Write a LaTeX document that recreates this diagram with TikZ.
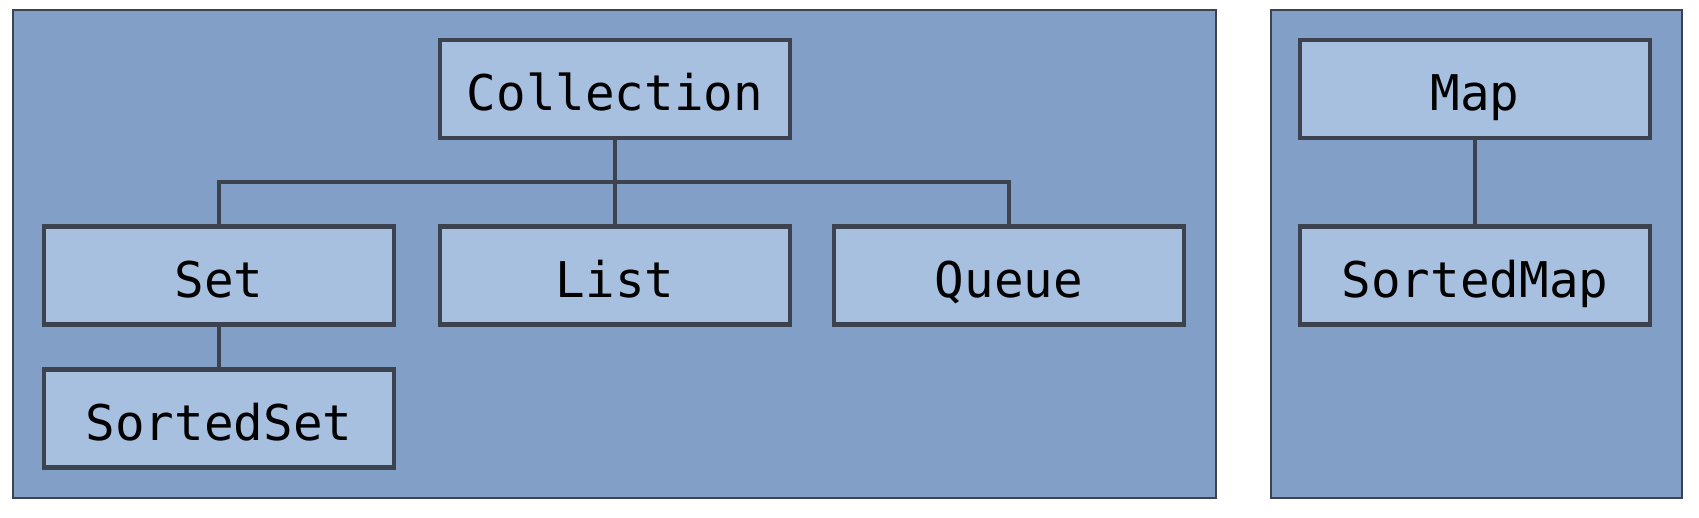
\documentclass[tikz,border=0pt]{standalone}
\usepackage{fontspec}
\setmonofont{DejaVu Sans Mono}
\usetikzlibrary{positioning}

\definecolor{panelblue}{RGB}{130,159,199}
\definecolor{boxblue}{RGB}{167,192,223}
\definecolor{edgegray}{RGB}{60,66,78}

\tikzset{
    panel/.style={draw=edgegray,fill=panelblue,line width=1.5pt},
    iface/.style={draw=edgegray,fill=boxblue,line width=2.4pt,rectangle,
        minimum width=7.0cm,minimum height=1.96cm,inner sep=0pt,
        text height=0.9cm,text depth=0.02cm,
        font=\ttfamily\fontsize{28}{30}\selectfont},
    link/.style={draw=edgegray,line width=2.2pt}
}

\begin{document}
\begin{tikzpicture}[x=0.02cm,y=-0.02cm]
    \useasboundingbox (0,0) rectangle (1699,517);

    % two background panels, collections and maps
    \draw[panel] (13,10) rectangle (1216,498);
    \draw[panel] (1271,10) rectangle (1682,498);

    % collection hierarchy
    \node[iface] (coll) at (615,89) {Collection};
    \node[iface] (set) at (219,275.5) {Set};
    \node[iface] (list) at (615,275.5) {List};
    \node[iface] (queue) at (1009,275.5) {Queue};
    \node[iface] (sortedset) at (219,418.5) {SortedSet};

    % map hierarchy
    \node[iface] (map) at (1475,89) {Map};
    \node[iface] (sortedmap) at (1475,275.5) {SortedMap};

    % bus from Collection down to Set, List and Queue
    \coordinate (bus) at (615,182);
    \draw[link] (coll) -- (list);
    \draw[link] (set.north) |- (bus) -| (queue.north);
    \draw[link] (set) -- (sortedset);

    % Map to SortedMap
    \draw[link] (map) -- (sortedmap);
\end{tikzpicture}
\end{document}
